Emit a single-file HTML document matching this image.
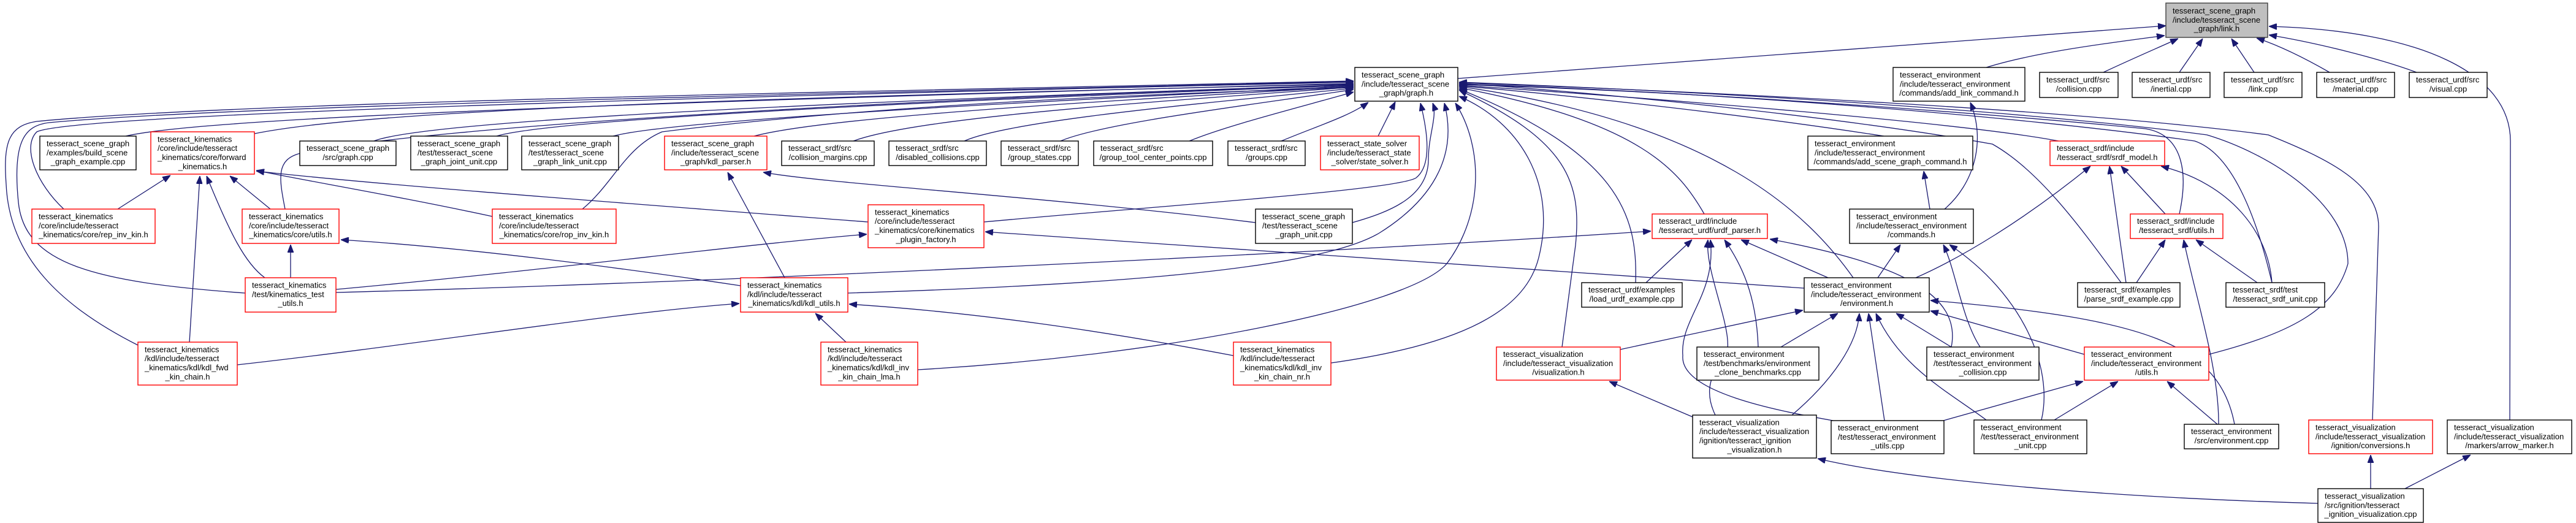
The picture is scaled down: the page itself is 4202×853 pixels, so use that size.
<!DOCTYPE html>
<html><head><meta charset="utf-8"><style>
html,body{margin:0;padding:0;background:#fff;}
svg{display:block;}
text{font-family:"Liberation Sans",Arial,sans-serif;font-size:13px;fill:#000;}
.m{text-anchor:middle;}
rect{fill:#fff;stroke-width:1.4;}
.b{stroke:#000;}
.r{stroke:#ff0000;}
.g{fill:#bfbfbf;stroke:#404040;}
path{fill:none;stroke:#191970;stroke-width:1.3;}
</style></head><body>
<svg width="4202" height="853" viewBox="0 0 4202 853" xmlns="http://www.w3.org/2000/svg">
<defs><marker id="a" markerUnits="userSpaceOnUse" markerWidth="13" markerHeight="10" refX="13" refY="5" orient="auto"><path d="M0,0 L13,5 L0,10 z" style="fill:#191970;stroke:#191970;stroke-width:1"/></marker></defs>
<g marker-end="url(#a)">
<path d="M2378,128 L3533,42"/>
<path d="M3240,110 C3320,85 3440,70 3531,58"/>
<path d="M3431,118 C3480,95 3520,78 3553,63"/>
<path d="M3555,118 L3593,63"/>
<path d="M3677,118 L3640,63"/>
<path d="M3800,118 C3760,95 3720,75 3681,62"/>
<path d="M3942,118 C3880,95 3780,70 3701,57"/>
<path d="M4094,685 L4095,230 C4095,120 3950,50 3701,43"/>
<path d="M205,222 C300,200 700,175 2208,136"/>
<path d="M415,218 C600,180 1200,160 2208,137"/>
<path d="M610,230 C700,195 1400,165 2208,138"/>
<path d="M810,222 C900,195 1500,165 2208,139"/>
<path d="M1000,222 C1100,195 1700,165 2208,140"/>
<path d="M1230,222 C1350,190 1800,165 2208,141"/>
<path d="M1392,230 C1500,190 1900,165 2208,142"/>
<path d="M1573,230 C1650,195 2000,165 2208,144"/>
<path d="M1730,230 C1800,200 2050,170 2208,146"/>
<path d="M1940,230 C2000,205 2120,175 2208,150"/>
<path d="M2090,230 C2150,205 2200,190 2232,167"/>
<path d="M2248,222 L2276,166"/>
<path d="M104,341 C60,300 35,240 60,215 C100,195 600,170 2208,134"/>
<path d="M400,478 C150,460 40,430 30,330 C20,230 40,205 80,200 C400,170 1500,150 2208,133"/>
<path d="M225,563 C100,500 15,420 10,300 C5,230 15,205 60,198 C400,165 1500,148 2208,132"/>
<path d="M465,341 C455,290 450,260 490,250 C700,205 1500,160 2208,139"/>
<path d="M950,341 C1000,300 1020,240 1080,215 C1400,175 1800,155 2208,143"/>
<path d="M1605,362 C1900,335 2280,310 2310,290 C2335,270 2330,220 2317,168"/>
<path d="M2206,363 C2270,345 2330,320 2330,260 C2330,220 2345,190 2337,168"/>
<path d="M1383,478 C1800,465 2150,440 2250,380 C2330,330 2380,260 2356,168"/>
<path d="M1497,603 C1900,580 2300,500 2360,430 C2420,350 2420,240 2374,168"/>
<path d="M2171,592 C2400,560 2490,500 2510,420 C2540,300 2480,200 2380,157"/>
<path d="M2548,566 L2570,400 C2580,300 2560,230 2380,147"/>
<path d="M2668,461 C2672,350 2640,250 2380,145"/>
<path d="M2780,349 C2740,280 2680,200 2380,143"/>
<path d="M3023,453 C2950,350 2800,200 2380,141"/>
<path d="M3073,222 C2800,180 2500,150 2380,140"/>
<path d="M3358,230 C3200,200 2700,160 2380,139"/>
<path d="M3555,349 C3570,280 3560,220 3500,210 C3300,190 2800,150 2380,138"/>
<path d="M3706,461 C3680,350 3640,250 3580,230 C3300,190 2800,150 2380,137"/>
<path d="M3460,461 C3400,380 3330,280 3250,235 C3000,190 2600,150 2380,136"/>
<path d="M3870,685 L3880,370 C3880,300 3800,260 3700,220 C3400,180 2800,150 2380,135"/>
<path d="M3603,578 C3750,540 3810,500 3830,430 C3830,330 3700,250 3600,220 C3300,180 2800,150 2380,134"/>
<path d="M192,341 L278,286"/>
<path d="M441,341 L375,287"/>
<path d="M432,453 C400,430 375,380 337,287"/>
<path d="M309,558 L326,287"/>
<path d="M803,353 C650,320 500,295 418,278"/>
<path d="M1416,362 C1000,330 600,300 418,279"/>
<path d="M474,453 L474,399"/>
<path d="M1208,466 C900,420 700,400 556,391"/>
<path d="M387,595 C700,560 1000,510 1206,495"/>
<path d="M548,472 C900,440 1200,400 1414,382"/>
<path d="M548,477 C1200,460 2200,410 2693,377"/>
<path d="M1380,558 L1330,511"/>
<path d="M2012,580 C1800,540 1600,510 1385,496"/>
<path d="M1280,453 L1187,281"/>
<path d="M2048,363 C1700,320 1350,300 1245,281"/>
<path d="M2943,470 C2400,430 1900,400 1607,378"/>
<path d="M2685,461 L2760,391"/>
<path d="M2798,677 C2780,640 2790,610 2810,590 C2840,560 2780,450 2786,391"/>
<path d="M2990,686 C2900,670 2740,640 2745,580 C2740,520 2800,480 2790,391"/>
<path d="M2868,566 C2865,480 2840,430 2813,391"/>
<path d="M2982,453 L2840,391"/>
<path d="M3183,566 C3200,480 3100,430 2887,390"/>
<path d="M2643,570 L2941,506"/>
<path d="M2905,566 L2998,511"/>
<path d="M2923,677 C2990,620 3030,560 3033,511"/>
<path d="M3074,686 L3048,511"/>
<path d="M3240,685 C3180,640 3100,600 3060,511"/>
<path d="M3183,566 L3093,511"/>
<path d="M3400,578 L3149,507"/>
<path d="M3645,692 C3620,560 3500,520 3149,490"/>
<path d="M3063,453 L3100,399"/>
<path d="M3125,453 C3200,420 3300,360 3410,271"/>
<path d="M3148,341 L3138,279"/>
<path d="M3172,341 C3220,300 3240,230 3214,167"/>
<path d="M3230,566 C3200,520 3190,440 3170,399"/>
<path d="M3330,685 C3350,600 3300,480 3180,399"/>
<path d="M3170,686 L3398,622"/>
<path d="M3351,685 L3455,622"/>
<path d="M3617,692 L3535,622"/>
<path d="M3485,461 L3532,391"/>
<path d="M3619,692 C3620,600 3580,480 3562,391"/>
<path d="M3682,461 L3582,391"/>
<path d="M3468,461 L3441,271"/>
<path d="M3532,349 L3460,271"/>
<path d="M3706,461 C3700,380 3640,300 3525,271"/>
<path d="M2761,680 L2625,622"/>
<path d="M3781,821 C3400,810 3100,780 2965,748"/>
<path d="M3867,797 L3867,742"/>
<path d="M3923,797 L4030,742"/>
</g>

<rect class="g" x="3533" y="5" width="166" height="56"/>
<text x="3544" y="22">tesseract_scene_graph</text><text x="3544" y="37">/include/tesseract_scene</text><text class="m" x="3616" y="51">_graph/link.h</text>

<rect class="b" x="2210" y="110" width="168" height="55"/>
<text x="2221" y="126.5">tesseract_scene_graph</text><text x="2221" y="141.3">/include/tesseract_scene</text><text class="m" x="2294" y="156">_graph/graph.h</text>

<rect class="b" x="3088" y="110" width="215" height="55"/>
<text x="3099" y="126.5">tesseract_environment</text><text x="3099" y="141.3">/include/tesseract_environment</text><text class="m" x="3195.5" y="156">/commands/add_link_command.h</text>

<rect class="b" x="3327" y="118" width="128" height="41"/>
<text x="3338" y="134.5">tesseract_urdf/src</text><text class="m" x="3391" y="149.3">/collision.cpp</text>
<rect class="b" x="3478" y="118" width="127" height="41"/>
<text x="3489" y="134.5">tesseract_urdf/src</text><text class="m" x="3541.5" y="149.3">/inertial.cpp</text>
<rect class="b" x="3628" y="118" width="127" height="41"/>
<text x="3639" y="134.5">tesseract_urdf/src</text><text class="m" x="3691.5" y="149.3">/link.cpp</text>
<rect class="b" x="3779" y="118" width="127" height="41"/>
<text x="3790" y="134.5">tesseract_urdf/src</text><text class="m" x="3842.5" y="149.3">/material.cpp</text>
<rect class="b" x="3930" y="118" width="127" height="41"/>
<text x="3941" y="134.5">tesseract_urdf/src</text><text class="m" x="3993.5" y="149.3">/visual.cpp</text>

<rect class="b" x="65" y="222" width="157" height="55"/>
<text x="76" y="238.5">tesseract_scene_graph</text><text x="76" y="253.3">/examples/build_scene</text><text class="m" x="143.5" y="268">_graph_example.cpp</text>

<rect class="r" x="246" y="215" width="169" height="69"/>
<text x="257" y="231.4">tesseract_kinematics</text><text x="257" y="246.2">/core/include/tesseract</text><text x="257" y="261">_kinematics/core/forward</text><text class="m" x="330.5" y="275.8">_kinematics.h</text>

<rect class="b" x="489" y="230" width="157" height="40"/>
<text x="500" y="246.2">tesseract_scene_graph</text><text class="m" x="567.5" y="261">/src/graph.cpp</text>

<rect class="b" x="670" y="222" width="158" height="55"/>
<text x="681" y="238.5">tesseract_scene_graph</text><text x="681" y="253.3">/test/tesseract_scene</text><text class="m" x="749" y="268">_graph_joint_unit.cpp</text>

<rect class="b" x="851" y="222" width="158" height="55"/>
<text x="862" y="238.5">tesseract_scene_graph</text><text x="862" y="253.3">/test/tesseract_scene</text><text class="m" x="930" y="268">_graph_link_unit.cpp</text>

<rect class="r" x="1084" y="222" width="167" height="55"/>
<text x="1095" y="238.5">tesseract_scene_graph</text><text x="1095" y="253.3">/include/tesseract_scene</text><text class="m" x="1167.5" y="268">_graph/kdl_parser.h</text>

<rect class="b" x="1275" y="230" width="151" height="40"/>
<text x="1286" y="246.2">tesseract_srdf/src</text><text class="m" x="1350.5" y="261">/collision_margins.cpp</text>
<rect class="b" x="1450" y="230" width="159" height="40"/>
<text x="1461" y="246.2">tesseract_srdf/src</text><text class="m" x="1529.5" y="261">/disabled_collisions.cpp</text>
<rect class="b" x="1633" y="230" width="126" height="40"/>
<text x="1644" y="246.2">tesseract_srdf/src</text><text class="m" x="1696" y="261">/group_states.cpp</text>
<rect class="b" x="1784" y="230" width="194" height="40"/>
<text x="1795" y="246.2">tesseract_srdf/src</text><text class="m" x="1881" y="261">/group_tool_center_points.cpp</text>
<rect class="b" x="2003" y="230" width="126" height="40"/>
<text x="2014" y="246.2">tesseract_srdf/src</text><text class="m" x="2066" y="261">/groups.cpp</text>

<rect class="r" x="2154" y="222" width="161" height="55"/>
<text x="2165" y="238.5">tesseract_state_solver</text><text x="2165" y="253.3">/include/tesseract_state</text><text class="m" x="2234.5" y="268">_solver/state_solver.h</text>

<rect class="b" x="2949" y="222" width="269" height="55"/>
<text x="2960" y="238.5">tesseract_environment</text><text x="2960" y="253.3">/include/tesseract_environment</text><text class="m" x="3083.5" y="268">/commands/add_scene_graph_command.h</text>

<rect class="r" x="3344" y="230" width="187" height="40"/>
<text x="3355" y="246.2">tesseract_srdf/include</text><text class="m" x="3437.5" y="261">/tesseract_srdf/srdf_model.h</text>

<rect class="r" x="52" y="341" width="201" height="56"/>
<text x="63" y="357.5">tesseract_kinematics</text><text x="63" y="372.3">/core/include/tesseract</text><text class="m" x="152.5" y="387">_kinematics/core/rep_inv_kin.h</text>

<rect class="r" x="395" y="341" width="158" height="56"/>
<text x="406" y="357.5">tesseract_kinematics</text><text x="406" y="372.3">/core/include/tesseract</text><text class="m" x="474" y="387">_kinematics/core/utils.h</text>

<rect class="r" x="803" y="341" width="202" height="56"/>
<text x="814" y="357.5">tesseract_kinematics</text><text x="814" y="372.3">/core/include/tesseract</text><text class="m" x="904" y="387">_kinematics/core/rop_inv_kin.h</text>

<rect class="r" x="1416" y="334" width="189" height="70"/>
<text x="1427" y="350.4">tesseract_kinematics</text><text x="1427" y="365.2">/core/include/tesseract</text><text x="1427" y="380">_kinematics/core/kinematics</text><text class="m" x="1510.5" y="394.8">_plugin_factory.h</text>

<rect class="b" x="2048" y="341" width="158" height="56"/>
<text x="2059" y="357.5">tesseract_scene_graph</text><text x="2059" y="372.3">/test/tesseract_scene</text><text class="m" x="2127" y="387">_graph_unit.cpp</text>

<rect class="b" x="3017" y="341" width="202" height="56"/>
<text x="3028" y="357.5">tesseract_environment</text><text x="3028" y="372.3">/include/tesseract_environment</text><text class="m" x="3118" y="387">/commands.h</text>

<rect class="r" x="2695" y="349" width="188" height="40"/>
<text x="2706" y="365.2">tesseract_urdf/include</text><text class="m" x="2789" y="380">/tesseract_urdf/urdf_parser.h</text>

<rect class="r" x="3475" y="349" width="151" height="40"/>
<text x="3486" y="365.2">tesseract_srdf/include</text><text class="m" x="3550.5" y="380">/tesseract_srdf/utils.h</text>

<rect class="r" x="400" y="453" width="148" height="56"/>
<text x="411" y="469.5">tesseract_kinematics</text><text x="411" y="484.3">/test/kinematics_test</text><text class="m" x="474" y="499">_utils.h</text>

<rect class="r" x="1208" y="453" width="175" height="56"/>
<text x="1219" y="469.5">tesseract_kinematics</text><text x="1219" y="484.3">/kdl/include/tesseract</text><text class="m" x="1295.5" y="499">_kinematics/kdl/kdl_utils.h</text>

<rect class="b" x="2943" y="453" width="204" height="56"/>
<text x="2954" y="469.5">tesseract_environment</text><text x="2954" y="484.3">/include/tesseract_environment</text><text class="m" x="3045" y="499">/environment.h</text>

<rect class="b" x="2580" y="461" width="164" height="40"/>
<text x="2591" y="477.2">tesseract_urdf/examples</text><text class="m" x="2662" y="492">/load_urdf_example.cpp</text>
<rect class="b" x="3389" y="461" width="167" height="40"/>
<text x="3400" y="477.2">tesseract_srdf/examples</text><text class="m" x="3472.5" y="492">/parse_srdf_example.cpp</text>
<rect class="b" x="3631" y="461" width="161" height="40"/>
<text x="3642" y="477.2">tesseract_srdf/test</text><text class="m" x="3711.5" y="492">/tesseract_srdf_unit.cpp</text>

<rect class="r" x="225" y="558" width="162" height="70"/>
<text x="236" y="574.4">tesseract_kinematics</text><text x="236" y="589.2">/kdl/include/tesseract</text><text x="236" y="604">_kinematics/kdl/kdl_fwd</text><text class="m" x="306" y="618.8">_kin_chain.h</text>

<rect class="r" x="1339" y="558" width="158" height="70"/>
<text x="1350" y="574.4">tesseract_kinematics</text><text x="1350" y="589.2">/kdl/include/tesseract</text><text x="1350" y="604">_kinematics/kdl/kdl_inv</text><text class="m" x="1418" y="618.8">_kin_chain_lma.h</text>

<rect class="r" x="2012" y="558" width="159" height="70"/>
<text x="2023" y="574.4">tesseract_kinematics</text><text x="2023" y="589.2">/kdl/include/tesseract</text><text x="2023" y="604">_kinematics/kdl/kdl_inv</text><text class="m" x="2091.5" y="618.8">_kin_chain_nr.h</text>

<rect class="r" x="2441" y="566" width="202" height="54"/>
<text x="2452" y="582">tesseract_visualization</text><text x="2452" y="596.8">/include/tesseract_visualization</text><text class="m" x="2542" y="611.6">/visualization.h</text>

<rect class="b" x="2768" y="566" width="199" height="54"/>
<text x="2779" y="582">tesseract_environment</text><text x="2779" y="596.8">/test/benchmarks/environment</text><text class="m" x="2867.5" y="611.6">_clone_benchmarks.cpp</text>

<rect class="b" x="3143" y="566" width="183" height="54"/>
<text x="3154" y="582">tesseract_environment</text><text x="3154" y="596.8">/test/tesseract_environment</text><text class="m" x="3234.5" y="611.6">_collision.cpp</text>

<rect class="r" x="3400" y="566" width="203" height="54"/>
<text x="3411" y="582">tesseract_environment</text><text x="3411" y="596.8">/include/tesseract_environment</text><text class="m" x="3501.5" y="611.6">/utils.h</text>

<rect class="b" x="2761" y="677" width="202" height="70"/>
<text x="2772" y="693.4">tesseract_visualization</text><text x="2772" y="708.2">/include/tesseract_visualization</text><text x="2772" y="723">/ignition/tesseract_ignition</text><text class="m" x="2862" y="737.8">_visualization.h</text>

<rect class="b" x="2987" y="686" width="184" height="54"/>
<text x="2998" y="702">tesseract_environment</text><text x="2998" y="716.8">/test/tesseract_environment</text><text class="m" x="3079" y="731.6">_utils.cpp</text>

<rect class="b" x="3220" y="685" width="184" height="55"/>
<text x="3231" y="701.5">tesseract_environment</text><text x="3231" y="716.3">/test/tesseract_environment</text><text class="m" x="3312" y="731">_unit.cpp</text>

<rect class="b" x="3563" y="692" width="154" height="40"/>
<text x="3574" y="708.2">tesseract_environment</text><text class="m" x="3640" y="723">/src/environment.cpp</text>

<rect class="r" x="3766" y="685" width="202" height="55"/>
<text x="3777" y="701.5">tesseract_visualization</text><text x="3777" y="716.3">/include/tesseract_visualization</text><text class="m" x="3867" y="731">/ignition/conversions.h</text>

<rect class="b" x="3992" y="685" width="203" height="55"/>
<text x="4003" y="701.5">tesseract_visualization</text><text x="4003" y="716.3">/include/tesseract_visualization</text><text class="m" x="4093.5" y="731">/markers/arrow_marker.h</text>

<rect class="b" x="3781" y="797" width="172" height="55"/>
<text x="3792" y="813.5">tesseract_visualization</text><text x="3792" y="828.3">/src/ignition/tesseract</text><text class="m" x="3867" y="843">_ignition_visualization.cpp</text>
</svg>
</body></html>
